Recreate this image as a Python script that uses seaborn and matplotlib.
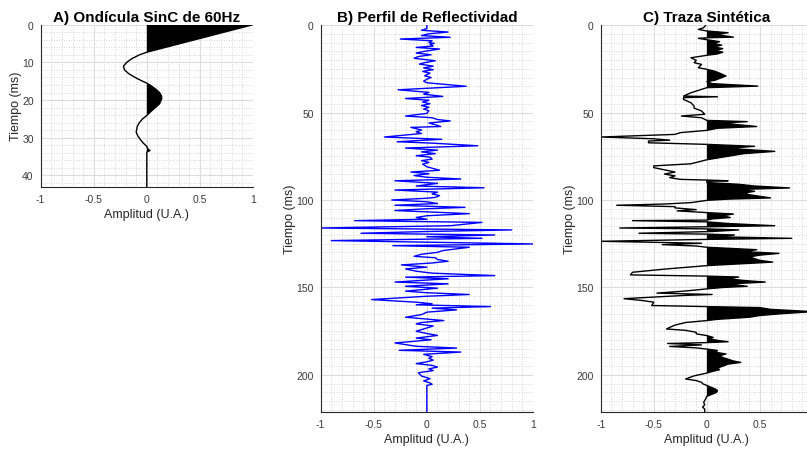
import numpy as np
import seaborn as sns
import matplotlib
matplotlib.use("Agg")
import matplotlib.pyplot as plt
from matplotlib.ticker import MultipleLocator

# --- A) wavelet (time ms, amplitude)
wav_t = [0, 7.3, 8, 9, 10, 11, 12, 13, 14, 15, 15.5, 16, 17, 18, 19, 19.7, 21, 22, 23, 24.1,
         25, 26, 27, 28.5, 29.5, 30.5, 31.5, 32.3, 33, 33.4, 33.8, 43]
wav_amp = [1.0, 0.0, -0.07, -0.14, -0.19, -0.22, -0.21, -0.17, -0.11, -0.04, 0.0, 0.03, 0.08, 0.12, 0.14,
           0.14, 0.12, 0.08, 0.04, 0.0, -0.04, -0.07, -0.09, -0.1, -0.085, -0.06, -0.03, 0.0, 0.01, 0.03, 0.0, 0.0]

# --- B) reflectivity profile
refl_t = [0, 2, 3, 4, 5, 6, 7, 8, 9, 10, 10.5, 11, 12, 12.8, 13.7, 15, 16, 17, 18, 19, 20.4, 21.5, 22.3,
          23.5, 24.5, 25.5, 26.5, 27.5, 29, 30, 31, 32, 33, 35, 37, 38.5, 39.5, 40.8, 42, 43, 44, 45, 46,
          47, 48, 49, 50.5, 52, 53, 54, 54.8, 56, 57, 58, 58.5, 60, 61, 62, 64, 65.3, 66.7, 67.5, 69, 70.3,
          71.5, 72.5, 73.5, 74.7, 75.5, 76.6, 77.5, 78.5, 79.5, 81, 83, 84, 85, 86, 87, 88, 89, 90.5, 92,
          93, 94.3, 95.5, 96.5, 97.5, 98.5, 99, 100, 101, 102, 103, 104.2, 105, 106, 107.8, 109, 110, 111,
          111.8, 112.8, 114.7, 116, 117.1, 118, 119, 120, 121, 121.9, 123.2, 125.1, 126.1, 127, 128.9,
          129.9, 131, 132.2, 133, 134, 135, 136, 137.1, 138.4, 139.4, 140.7, 141.8, 143.2, 144.1, 145,
          146.9, 147.9, 149.3, 150.4, 152.1, 153, 154, 155, 156.9, 158.4, 159.3, 159.9, 160.9, 161.8,
          162.8, 164.1, 165.5, 167, 168.9, 170, 170.8, 172, 173.5, 175, 176.3, 177.4, 178.9, 179.9, 181.7,
          183.6, 184.6, 185.9, 186.9, 188.2, 189.5, 190.5, 191.5, 192.5, 193.5, 194.5, 195.5, 196.5,
          197.5, 198.7, 200.6, 201.5, 202.1, 203.4, 204.3, 205.3, 206, 207, 221]
refl_amp = [0, 0, -0.05, 0.2, 0.02, -0.05, 0.22, -0.25, 0.05, 0.02, 0.07, 0.03, 0.06, -0.1, 0.12, -0.02,
            -0.1, 0.04, -0.08, -0.12, 0.08, -0.02, -0.07, 0.06, -0.03, 0.06, -0.04, 0.03, -0.02, 0.04, 0.0,
            -0.03, 0.0, 0.37, -0.27, 0.02, -0.03, 0.15, -0.2, 0.02, -0.04, 0.03, -0.05, 0.02, -0.03, 0.02,
            0.0, -0.2, 0.05, 0.1, 0.22, 0.02, 0.08, 0.13, -0.15, -0.05, -0.1, -0.05, -0.4, 0.14, -0.28, 0.05,
            0.48, -0.2, 0.1, -0.05, 0.08, -0.1, 0.03, 0.05, -0.05, 0.02, -0.04, 0.0, 0.12, -0.15, 0.02,
            -0.12, 0.0, 0.32, -0.3, 0.1, -0.1, 0.54, -0.3, 0.1, 0.05, 0.12, 0.08, 0.0, -0.33, 0.0, 0.1, -0.3,
            0.36, 0.0, -0.3, 0.4, 0.0, -0.1, 0.0, -0.68, 0.52, 0.22, -1.0, 0.8, 0.0, -0.62, 0.64, 0.0, 0.52,
            -0.9, 1.0, -0.32, 0.4, 0.15, 0.1, -0.05, -0.12, 0.08, 0.1, 0.2, 0.05, -0.24, 0.0, -0.2, -0.1,
            0.05, 0.64, -0.2, 0.2, -0.3, 0.2, -0.2, 0.1, -0.2, 0.0, 0.4, 0.0, -0.52, -0.1, 0.05, -0.1, 0.6,
            0.05, 0.28, 0.0, -0.05, -0.2, 0.16, -0.05, -0.1, 0.06, -0.02, -0.1, 0.0, 0.1, -0.1, 0.04, -0.3,
            -0.1, 0.28, -0.26, 0.32, -0.03, 0.05, 0.02, 0.06, 0.0, -0.1, 0.05, 0.1, 0.02, 0.06, -0.08, -0.05,
            0.0, 0.03, -0.03, 0.02, 0.05, 0.0, 0.0, 0.0]

# --- C) synthetic trace
trace_t = [0, 1.5, 2.5, 3.4, 4.4, 5.3, 6.0, 6.9, 7.3, 7.6, 8.4, 9.5, 10.5, 11.5, 12.5, 13.5, 14.5, 15.5,
           16.5, 17.3, 18.7, 20.2, 21.5, 22.5, 24.4, 25.3, 26.5, 27.5, 29.1, 30.5, 31.5, 32.4, 33.5, 34.9,
           35.8, 38.7, 40.6, 41.0, 41.5, 42.5, 44.4, 46.3, 47.5, 49.1, 51, 52, 53, 54.5, 55.2, 56, 57, 58,
           59, 60.2, 61.5, 62.5, 64, 65, 65.8, 66.3, 67.3, 68.2, 69.3, 70.5, 72.2, 73.5, 75, 76.5, 77.0,
           79.3, 80.5, 81.5, 83, 84, 85.2, 86.2, 87.2, 88.2, 88.6, 89, 89.3, 90, 91, 92, 93.1, 94, 95, 96,
           97, 98.8, 99.5, 100.2, 101.5, 102.3, 103, 103.8, 104.5, 105.5, 106.2, 107.2, 108, 109, 110,
           110.8, 111.5, 111.8, 112.5, 113.5, 114.7, 115.3, 116, 116.5, 117.1, 118, 119, 119.5, 120, 121,
           121.9, 122.5, 123.6, 124.7, 125.5, 126.3, 127, 127.6, 128.4, 129.5, 130.5, 131.5, 132.5, 133.5,
           134.5, 135.5, 136.5, 137.5, 139.5, 141.3, 142.8, 143.5, 144, 145, 146, 146.9, 148, 149.3, 150,
           150.8, 152, 153.2, 154, 154.5, 156.4, 157.5, 158.4, 160.3, 160.9, 161.5, 162.5, 163.8, 165, 166,
           167, 168.2, 168.9, 170, 171.5, 172.8, 173.7, 174.5, 175.6, 176.5, 177.5, 178.5, 179.5, 180.4,
           181.0, 181.5, 182.0, 182.8, 183.7, 184.5, 185.2, 186, 187, 188, 189, 190, 191, 192, 192.8,
           193.8, 195, 196, 197, 198, 198.9, 200.5, 202.3, 203.2, 204.2, 205, 206, 207, 208, 209, 210, 211,
           212.2, 213.5, 215.6, 217, 218.4, 219.5, 221]
trace_amp = [-0.01, -0.03, -0.08, 0.0, 0.2, 0.1, 0.15, 0.25, 0.0, -0.08, 0.0, 0.12, 0.06, 0.14, 0.07,
             0.15, 0.08, 0.15, 0.1, 0.0, -0.15, -0.1, -0.12, -0.05, -0.08, 0.0, 0.08, 0.12, 0.18, 0.12,
             0.08, 0.0, 0.05, 0.48, 0.0, -0.15, -0.22, 0.1, -0.22, -0.22, -0.15, -0.12, -0.12, -0.05, -0.02,
             -0.24, -0.05, 0.0, 0.38, 0.15, 0.3, 0.47, 0.1, 0.0, -0.25, -0.3, -1.0, -0.5, -0.35, -0.55,
             -0.55, 0.0, 0.45, 0.2, 0.64, 0.35, 0.2, 0.05, 0.0, -0.15, -0.5, -0.5, -0.38, -0.3, -0.4, -0.3,
             -0.35, -0.25, 0.0, 0.2, 0.0, 0.0, 0.3, 0.45, 0.78, 0.3, 0.45, 0.35, 0.4, 0.6, 0.2, 0.0, -0.15,
             -0.4, -0.85, -0.3, -0.3, -0.1, -0.28, 0.0, 0.25, 0.15, 0.22, 0.05, 0.0, -0.7, 0.0, 0.22, 0.64,
             0.0, -0.82, 0.0, 0.3, 0.05, -0.64, 0.0, 0.26, 0.1, 0.8, 0.0, -1.0, -0.05, -0.42, -0.1, 0.0, 0.2,
             0.47, 0.35, 0.68, 0.5, 0.4, 0.45, 0.5, 0.62, 0.3, 0.0, -0.4, -0.7, -0.72, 0.0, 0.3, 0.2, 0.35,
             0.55, 0.2, 0.38, 0.15, 0.0, -0.2, -0.47, 0.05, -0.2, -0.78, -0.6, -0.5, -0.52, 0.0, 0.5, 0.6,
             1.0, 0.7, 0.5, 0.4, 0.1, 0.0, -0.2, -0.3, -0.35, -0.38, -0.2, -0.1, -0.1, 0.0, 0.06, 0.03, 0.12,
             0.2, 0.0, -0.37, -0.05, -0.35, -0.1, 0.0, 0.1, 0.08, 0.18, 0.12, 0.15, 0.2, 0.25, 0.32, 0.2,
             0.15, 0.1, 0.12, 0.05, 0.0, -0.12, -0.2, -0.1, -0.05, -0.04, 0.0, 0.04, 0.08, 0.1, 0.09, 0.05,
             0.0, -0.01, -0.03, -0.02, -0.04, -0.02, -0.02]

x_ticks = [-1, -0.5, 0, 0.5, 1]
x_labels = ["-1", "-0.5", "0", "0.5", "1"]

sns.set_style("white")
plt.rcParams['font.family'] = ['Liberation Sans', 'DejaVu Sans']
plt.rcParams['axes.unicode_minus'] = False

dark = "#262626"
tick_col = "#3a3a3a"
fig = plt.figure(figsize=(8.07, 4.52), dpi=100)


def style_axes(ax, ymax, ymajor, yminor, title, xlabels):
    ax.set_xlim(-1, 1)
    ax.set_ylim(ymax, 0)
    ax.set_xticks(x_ticks)
    ax.set_xticklabels(xlabels)
    ax.xaxis.set_minor_locator(MultipleLocator(0.1))
    ax.yaxis.set_major_locator(MultipleLocator(ymajor))
    ax.yaxis.set_minor_locator(MultipleLocator(yminor))
    ax.grid(which='major', color='#dcdcdc', lw=0.8, ls='-')
    ax.grid(which='minor', color='#c8c8c8', lw=0.6, ls=(0, (1, 2)))
    ax.set_axisbelow(True)
    for s in ['top', 'right']:
        ax.spines[s].set_visible(False)
    for s in ['left', 'bottom']:
        ax.spines[s].set_color(dark)
        ax.spines[s].set_linewidth(0.8)
    ax.tick_params(which='major', direction='in', length=3, width=0.7, colors=dark,
                   labelcolor=tick_col, labelsize=7.5, pad=5)
    ax.tick_params(which='minor', length=0)
    ax.set_xlabel("Amplitud (U.A.)", fontsize=9, color=dark, labelpad=3)
    ax.set_ylabel("Tiempo (ms)", fontsize=9, color=dark, labelpad=0)
    ax.set_title(title, fontsize=11, fontweight='bold', color='black', pad=3)


# A) wavelet
axA = fig.add_axes([0.0504, 0.5847, 0.263, 0.3584])
wt = np.array(wav_t)
wa = np.array(wav_amp)
axA.fill_betweenx(wt, 0, wa, where=wa >= 0, interpolate=True, color='black', lw=0)
sns.lineplot(x=wa, y=wt, sort=False, estimator=None, color='black', lw=1.0, ax=axA)
style_axes(axA, 43, 10, 2, "A) Ondícula SinC de 60Hz", x_labels)

# B) reflectivity
axB = fig.add_axes([0.3974, 0.0869, 0.263, 0.8555])
sns.lineplot(x=refl_amp, y=refl_t, sort=False, estimator=None, color='#0000ff', lw=1.0, ax=axB)
style_axes(axB, 221, 50, 5, "B) Perfil de Reflectividad", x_labels)

# C) synthetic trace (right edge runs past the figure, so its "1" label is off-canvas)
axC = fig.add_axes([0.7444, 0.0869, 0.263, 0.8555])
tt = np.array(trace_t)
ta = np.array(trace_amp)
axC.fill_betweenx(tt, 0, ta, where=ta >= 0, interpolate=True, color='black', lw=0)
sns.lineplot(x=ta, y=tt, sort=False, estimator=None, color='black', lw=1.0, ax=axC)
style_axes(axC, 221, 50, 5, "C) Traza Sintética", x_labels[:-1] + [""])

fig.savefig("out.png", dpi=100)
